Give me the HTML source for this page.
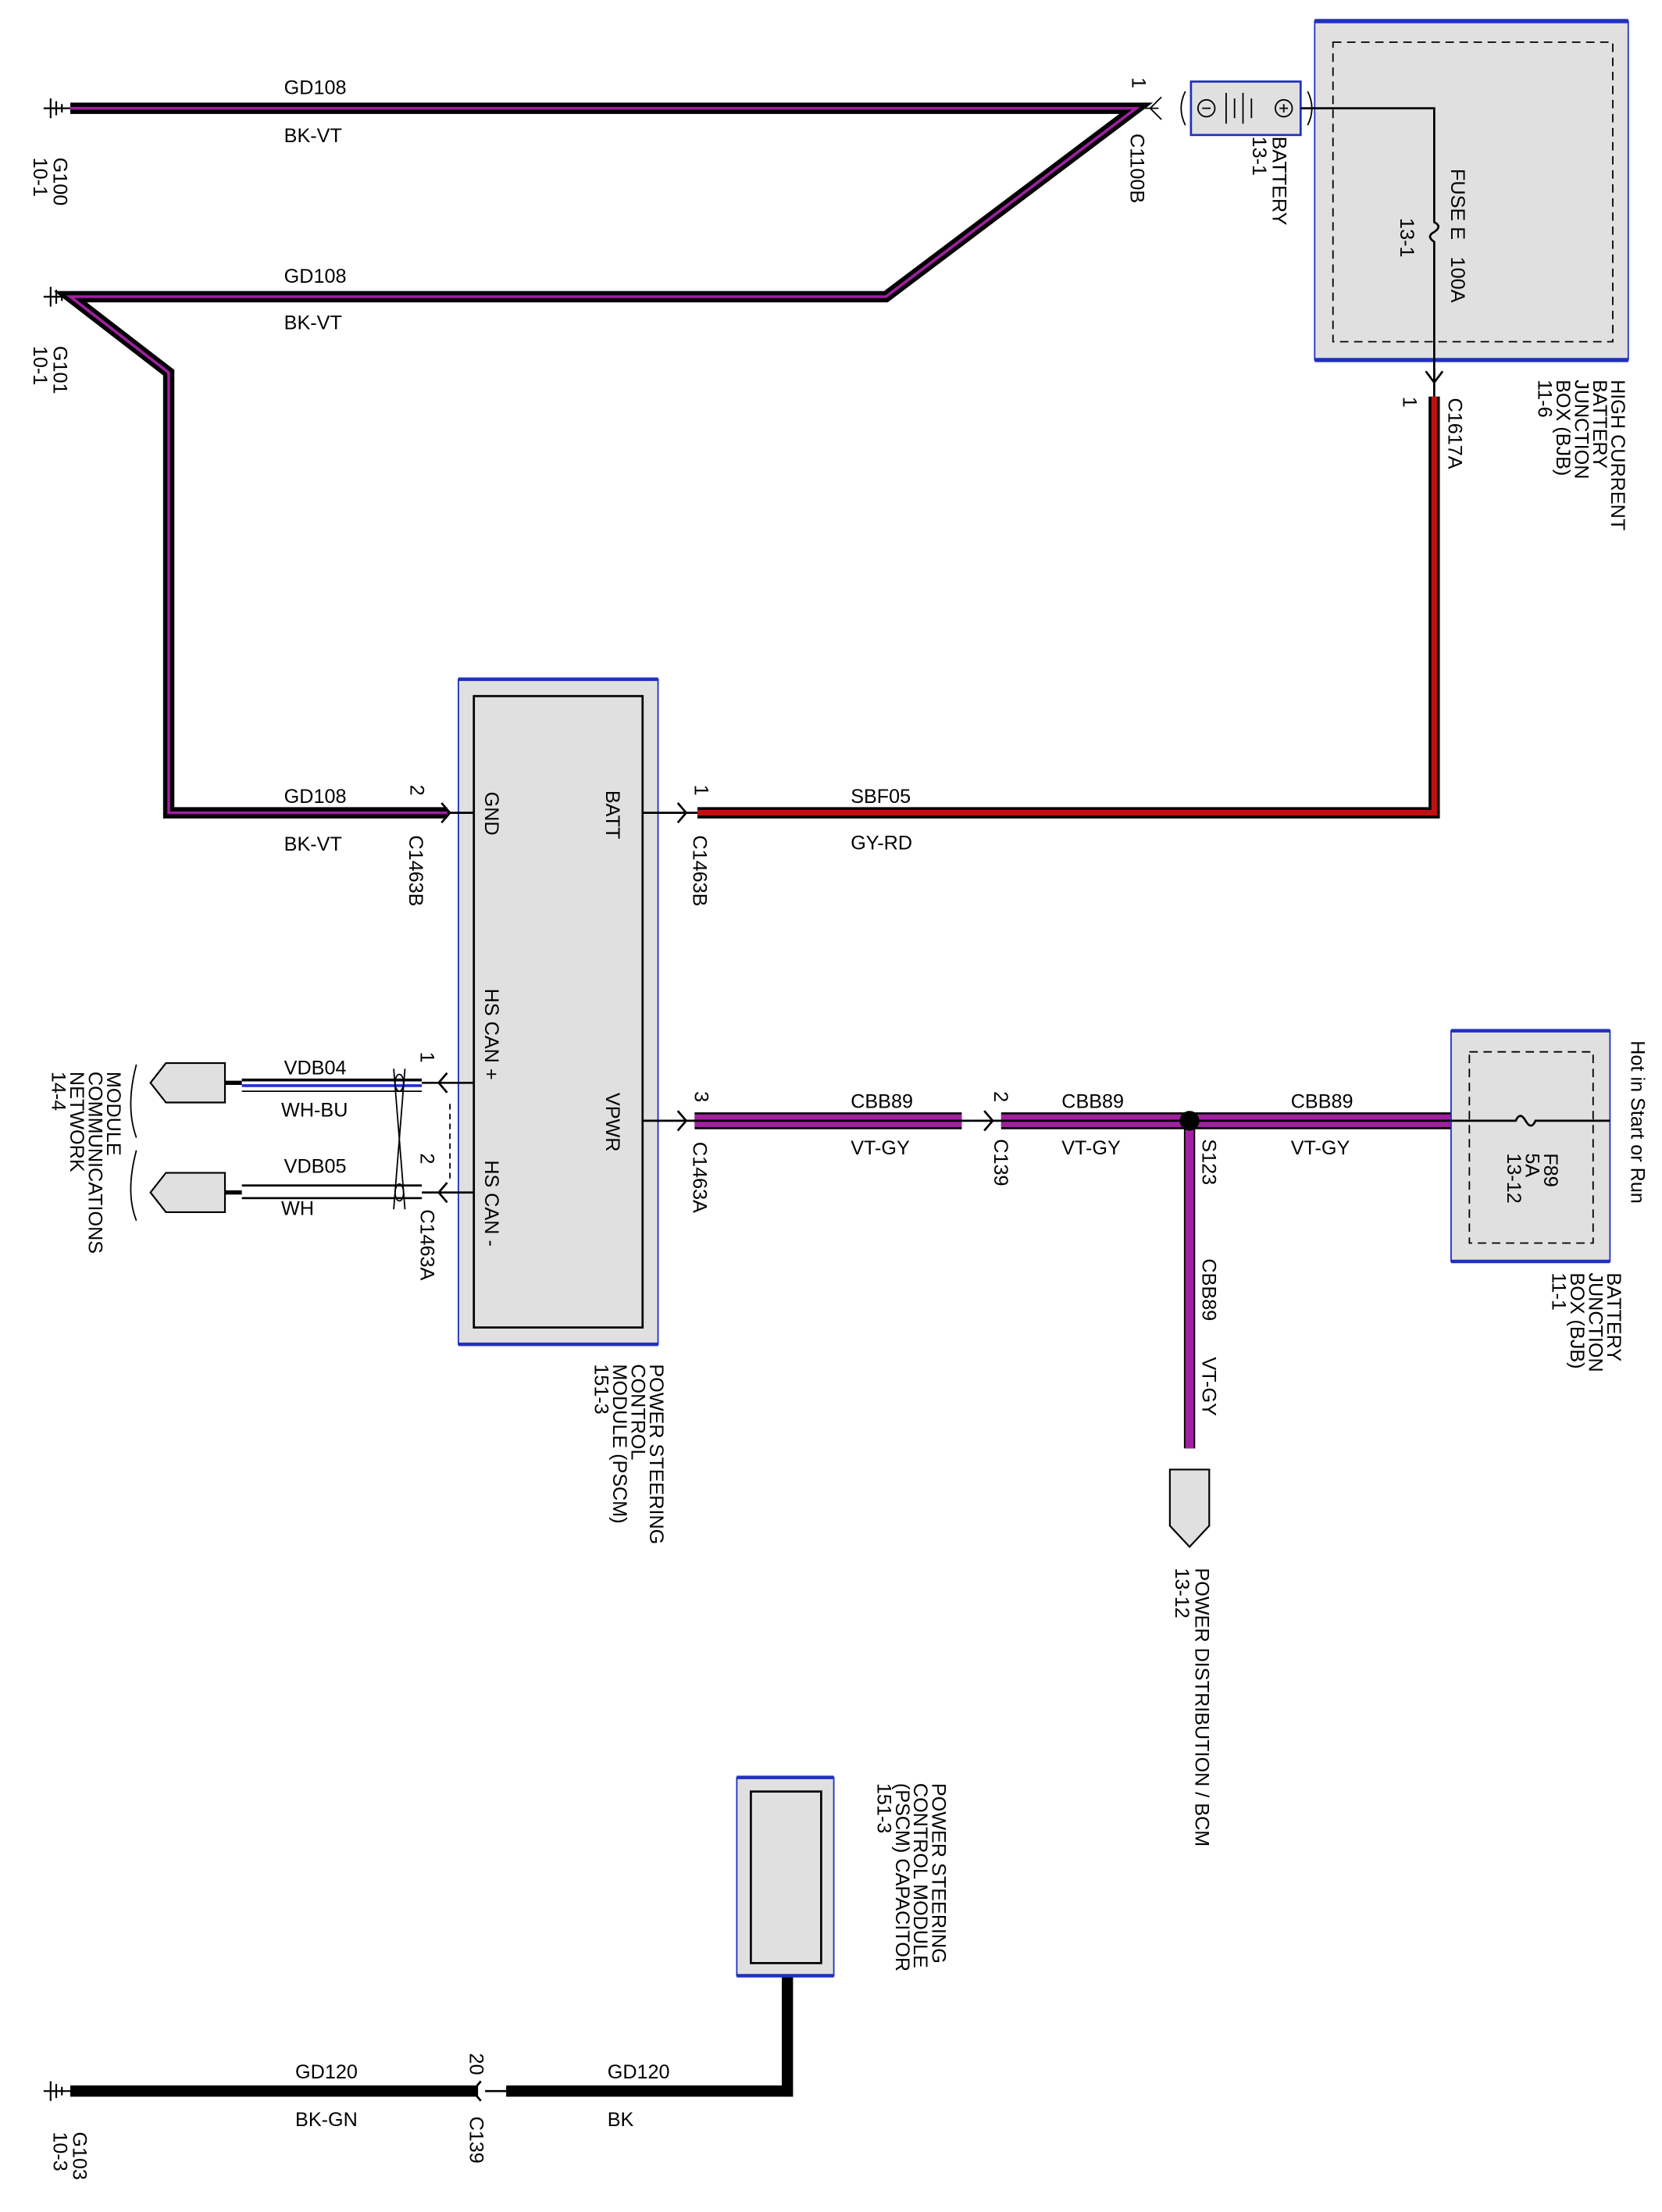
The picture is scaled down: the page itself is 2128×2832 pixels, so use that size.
<!DOCTYPE html>
<html><head><meta charset="utf-8"><style>
html,body{margin:0;padding:0;background:#fff}
svg{display:block}
text{font-family:"Liberation Sans",sans-serif;font-size:14px;fill:#000}
.n{font-size:15px}
</style></head><body>
<svg width="2128" height="2832" viewBox="0 0 1182 1573" preserveAspectRatio="none" xmlns="http://www.w3.org/2000/svg">
<rect width="1182" height="1573" fill="#fff"/>
<!-- grounds -->
<g stroke="#000" stroke-width="1.2">
<path d="M36,70V84M31,77H36M36,77H50M40,72V82M44,74V80"/>
<path d="M36,204V218M31,211H36M36,211H50M40,206V216M44,208V214"/>
<path d="M36,1480V1494M31,1487H36M36,1487H50M40,1482V1492M44,1484V1490"/>
</g>
<!-- GD108 wires -->
<g fill="none" stroke-linejoin="miter">
<path d="M50,77H808L630,211H50L120,265V578H318" stroke="#000" stroke-width="8"/>
<path d="M50,77H808L630,211H50L120,265V578H318" stroke="#a020a0" stroke-width="2"/>
<!-- SBF05 -->
<path d="M1020,282V578H496" stroke="#000" stroke-width="8"/>
<path d="M1020,282V578H496" stroke="#c01010" stroke-width="4"/>
<!-- CBB89 -->
<path d="M494,797H684M712,797H1032" stroke="#000" stroke-width="12"/>
<path d="M494,797H684M712,797H1032" stroke="#a020a0" stroke-width="9"/>
<path d="M494,797H684M712,797H1032" stroke="#000" stroke-width="1.5"/>
<path d="M846,797V1030" stroke="#000" stroke-width="8"/>
<path d="M846,797V1030" stroke="#a020a0" stroke-width="6"/>
<!-- GD120 -->
<path d="M560,1405V1487H360M340,1487H50" stroke="#000" stroke-width="8"/>
</g>
<!-- battery & fuse circuit -->
<rect x="935" y="15" width="223" height="241" fill="#e0e0e0" stroke="#2030c0" stroke-width="1"/>
<path d="M935,15H1158M935,256H1158" stroke="#2030c0" stroke-width="3"/>
<rect x="948" y="30" width="199" height="213" fill="none" stroke="#000" stroke-dasharray="6,4"/>
<rect x="847" y="58" width="78" height="38" fill="#e0e0e0" stroke="#2030c0" stroke-width="1.5"/>
<g stroke="#000" stroke-width="1" fill="none">
<circle cx="858" cy="77" r="6"/><circle cx="913" cy="77" r="6"/>
<path d="M855,77h6M910,77h6M913,74v6M872,66v22M878,70v14M884,66v22M890,70v14"/>
<path d="M925,77H1020V158q6,3 0,7q-6,3 0,7V268" stroke-width="1.5"/>
<path d="M1014,264l6,8l6,-8M1020,262V282" stroke-width="1.5"/>
<path d="M810,77h14M826,69l-8,8l8,8M843,65q-6,12 0,24M930,65q6,12 0,24"/>
</g>
<!-- PSCM -->
<rect x="326" y="483" width="142" height="473" fill="#e0e0e0" stroke="#2030c0" stroke-width="1"/>
<path d="M326,483H468M326,956H468" stroke="#2030c0" stroke-width="2.5"/>
<rect x="337" y="495" width="120" height="449" fill="#e0e0e0" stroke="#000" stroke-width="1.5"/>
<g stroke="#000" stroke-width="1.5" fill="none">
<path d="M318,578h19M314,571l6,7l-6,7"/>
<path d="M457,578h39M482,571l6,7l-6,7"/>
<path d="M457,797h37M482,790l6,7l-6,7"/>
<path d="M684,797h28M700,790l6,7l-6,7"/>
<path d="M300,770h37M318,763l-6,7l6,7M300,848h37M318,841l-6,7l6,7"/>
<path d="M345,1487h15M342,1480l-6,7l6,7"/>
</g>
<!-- CAN wires -->
<g stroke-width="2">
<path d="M172,768H300" stroke="#000"/><path d="M172,772H300" stroke="#2030d0"/>
<path d="M172,776H300" stroke="#000" stroke-width="1"/>
<path d="M172,843H300M172,852H300" stroke="#000" stroke-width="1.5"/>
</g>
<path d="M160,770h12M160,848h12" stroke="#000" stroke-width="3"/>
<path d="M280,760L288,860M288,760L280,860" stroke="#000" stroke-width="1"/>
<ellipse cx="284" cy="770" rx="3" ry="6" fill="none" stroke="#000"/>
<ellipse cx="284" cy="848" rx="3" ry="6" fill="none" stroke="#000"/>
<path d="M320,785V840" stroke="#000" stroke-dasharray="4,3"/>
<g fill="#e0e0e0" stroke="#000" stroke-width="1.2">
<path d="M160,756H118L107,770L118,784H160Z"/>
<path d="M160,834H118L107,848L118,862H160Z"/>
<path d="M832,1045H860V1085L846,1100L832,1085Z"/>
</g>
<path d="M97,757q-8,30 0,52M97,818q-8,30 0,50" fill="none" stroke="#000"/>
<!-- BJB -->
<rect x="1032" y="733" width="113" height="164" fill="#e0e0e0" stroke="#2030c0" stroke-width="1"/>
<path d="M1032,733H1145M1032,897H1145" stroke="#2030c0" stroke-width="2.5"/>
<rect x="1045" y="748" width="88" height="136" fill="none" stroke="#000" stroke-dasharray="6,4"/>
<path d="M1032,797H1078q3,-7 7,0q4,7 7,0H1145" fill="none" stroke="#000" stroke-width="1.5"/>
<circle cx="846" cy="797" r="7" fill="#000"/>
<!-- capacitor -->
<rect x="524" y="1264" width="69" height="141" fill="#e0e0e0" stroke="#2030c0" stroke-width="1"/>
<path d="M524,1264H593M524,1405H593" stroke="#2030c0" stroke-width="2.5"/>
<rect x="534" y="1274" width="50" height="122" fill="#e0e0e0" stroke="#000" stroke-width="1.5"/>
<!-- horizontal labels -->
<g class="n">
<text x="202" y="67">GD108</text><text x="202" y="101">BK-VT</text>
<text x="202" y="201">GD108</text><text x="202" y="234">BK-VT</text>
<text x="202" y="571">GD108</text><text x="202" y="605">BK-VT</text>
<text x="605" y="571">SBF05</text><text x="605" y="604">GY-RD</text>
<text x="605" y="788">CBB89</text><text x="605" y="821">VT-GY</text>
<text x="755" y="788">CBB89</text><text x="755" y="821">VT-GY</text>
<text x="918" y="788">CBB89</text><text x="918" y="821">VT-GY</text>
<text x="202" y="764">VDB04</text><text x="200" y="794">WH-BU</text>
<text x="202" y="834">VDB05</text><text x="200" y="864">WH</text>
<text x="210" y="1478">GD120</text><text x="210" y="1512">BK-GN</text>
<text x="432" y="1478">GD120</text><text x="432" y="1512">BK</text>
</g>
<!-- rotated labels -->
<g>
<text transform="translate(38,112) rotate(90)">G100<tspan x="0" dy="14">10-1</tspan></text>
<text transform="translate(38,246) rotate(90)">G101<tspan x="0" dy="14">10-1</tspan></text>
<text transform="translate(52,1516) rotate(90)">G103<tspan x="0" dy="14">10-3</tspan></text>
<text transform="translate(805,55) rotate(90)">1</text>
<text transform="translate(804,95) rotate(90)">C1100B</text>
<text transform="translate(905,97) rotate(90)">BATTERY<tspan x="0" dy="14">13-1</tspan></text>
<text transform="translate(1032,120) rotate(90)">FUSE E<tspan dx="12">100A</tspan></text>
<text transform="translate(996,155) rotate(90)">13-1</text>
<text transform="translate(1146,270) rotate(90)">HIGH CURRENT<tspan x="0" dy="13">BATTERY</tspan><tspan x="0" dy="13">JUNCTION</tspan><tspan x="0" dy="13">BOX (BJB)</tspan><tspan x="0" dy="13">11-6</tspan></text>
<text transform="translate(998,282) rotate(90)">1</text>
<text transform="translate(1030,283) rotate(90)">C1617A</text>
<text transform="translate(345,563) rotate(90)">GND</text>
<text transform="translate(431,562) rotate(90)">BATT</text>
<text transform="translate(345,703) rotate(90)">HS CAN +</text>
<text transform="translate(431,777) rotate(90)">VPWR</text>
<text transform="translate(345,825) rotate(90)">HS CAN -</text>
<text transform="translate(292,558) rotate(90)">2</text>
<text transform="translate(291,594) rotate(90)">C1463B</text>
<text transform="translate(494,558) rotate(90)">1</text>
<text transform="translate(493,594) rotate(90)">C1463B</text>
<text transform="translate(494,776) rotate(90)">3</text>
<text transform="translate(493,812) rotate(90)">C1463A</text>
<text transform="translate(299,748) rotate(90)">1</text>
<text transform="translate(299,820) rotate(90)">2</text>
<text transform="translate(299,860) rotate(90)">C1463A</text>
<text transform="translate(707,776) rotate(90)">2</text>
<text transform="translate(707,810) rotate(90)">C139</text>
<text transform="translate(855,810) rotate(90)">S123</text>
<text transform="translate(855,895) rotate(90)">CBB89</text>
<text transform="translate(855,965) rotate(90)">VT-GY</text>
<text transform="translate(462,970) rotate(90)">POWER STEERING<tspan x="0" dy="13">CONTROL</tspan><tspan x="0" dy="13">MODULE (PSCM)</tspan><tspan x="0" dy="13">151-3</tspan></text>
<text transform="translate(76,762) rotate(90)">MODULE<tspan x="0" dy="13">COMMUNICATIONS</tspan><tspan x="0" dy="13">NETWORK</tspan><tspan x="0" dy="13">14-4</tspan></text>
<text transform="translate(850,1115) rotate(90)">POWER DISTRIBUTION / BCM<tspan x="0" dy="14">13-12</tspan></text>
<text transform="translate(1160,740) rotate(90)">Hot in Start or Run</text>
<text transform="translate(1098,820) rotate(90)">F89<tspan x="0" dy="13">5A</tspan><tspan x="0" dy="13">13-12</tspan></text>
<text transform="translate(1143,905) rotate(90)">BATTERY<tspan x="0" dy="13">JUNCTION</tspan><tspan x="0" dy="13">BOX (BJB)</tspan><tspan x="0" dy="13">11-1</tspan></text>
<text transform="translate(663,1268) rotate(90)">POWER STEERING<tspan x="0" dy="13">CONTROL MODULE</tspan><tspan x="0" dy="13">(PSCM) CAPACITOR</tspan><tspan x="0" dy="13">151-3</tspan></text>
<text transform="translate(334,1460) rotate(90)">20</text>
<text transform="translate(334,1505) rotate(90)">C139</text>
</g>
</svg>
</body></html>
